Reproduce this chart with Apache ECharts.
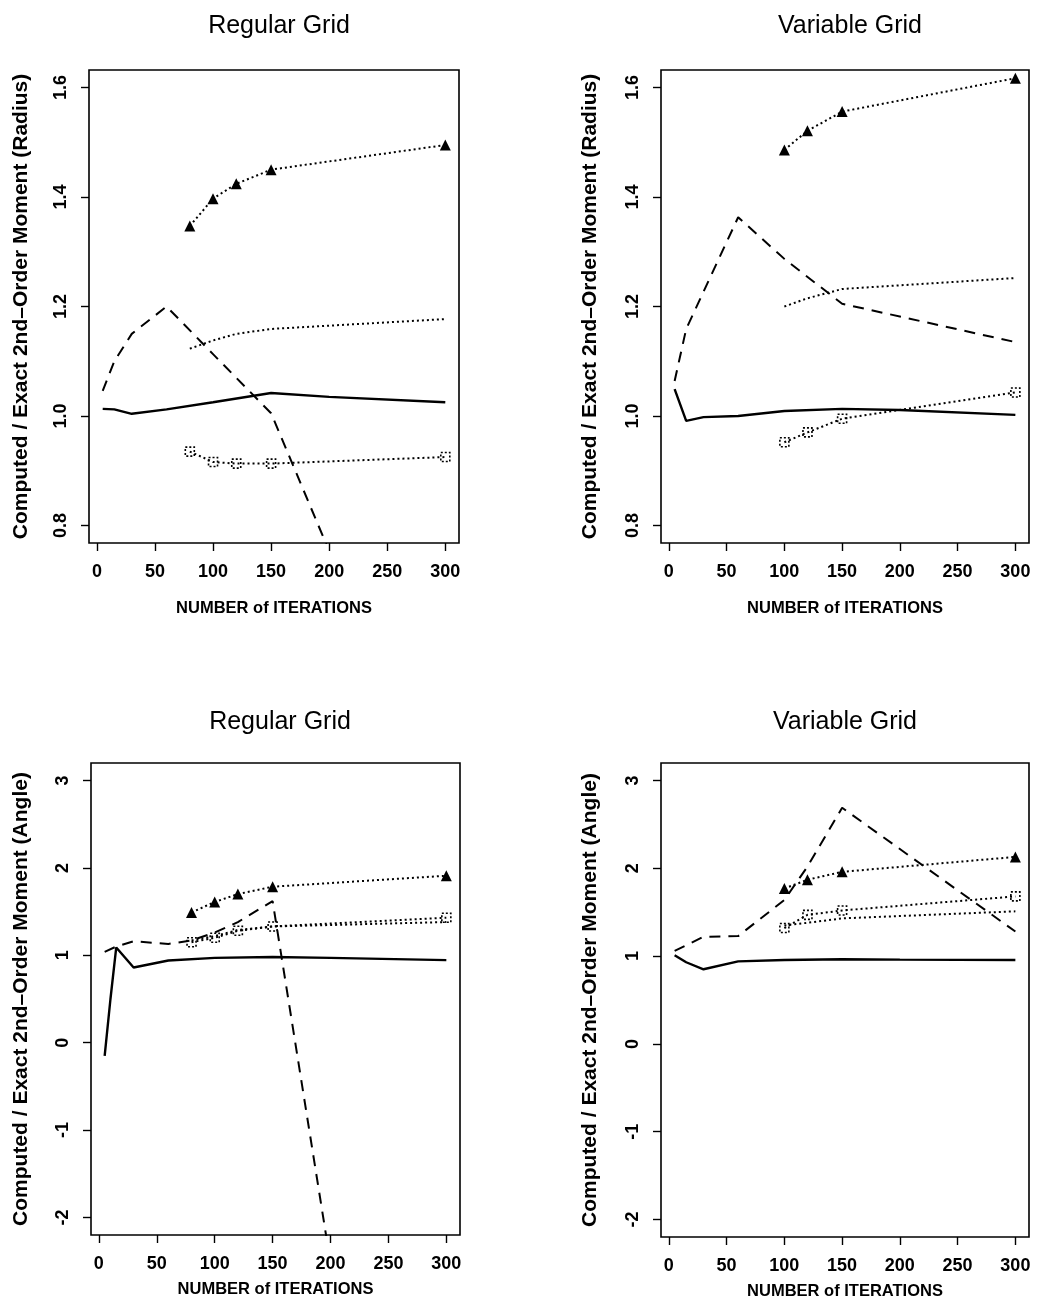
<!DOCTYPE html>
<html><head><meta charset="utf-8">
<script src="https://cdn.jsdelivr.net/npm/echarts@6/dist/echarts.min.js"></script>
<style>html,body{margin:0;padding:0;background:#fff}#c{width:1037px;height:1313px}</style>
</head><body><div id="c"></div>
<script>
// ---- tick labels / texts ----
const xTicks = [0, 50, 100, 150, 200, 250, 300];
const yTicksRadius = [0.8, 1.0, 1.2, 1.4, 1.6];
const yTicksAngle = [-2, -1, 0, 1, 2, 3];
const panelTitles = ['Regular Grid', 'Variable Grid', 'Regular Grid', 'Variable Grid'];
const yNameRadius = 'Computed / Exact 2nd\u2013Order Moment (Radius)';
const yNameAngle = 'Computed / Exact 2nd\u2013Order Moment (Angle)';
const xName = 'NUMBER of ITERATIONS';

// ---- Panel A: Regular Grid, Radius ----
const itersSolidA = [5, 15, 30, 60, 100, 150, 200, 300];
const solidA = [1.013, 1.012, 1.004, 1.012, 1.025, 1.042, 1.035, 1.025];
const itersDashA = [5, 15, 30, 60, 100, 150, 300];
const dashA = [1.046, 1.10, 1.15, 1.20, 1.113, 1.005, 0.25];
const itersDotA = [80, 100, 120, 150, 300];
const triA = [1.347, 1.397, 1.424, 1.450, 1.495];
const plainA = [1.123, 1.138, 1.150, 1.159, 1.177];
const squareA = [0.935, 0.916, 0.913, 0.913, 0.925];

// ---- Panel B: Variable Grid, Radius ----
const itersSolidB = [5, 15, 30, 60, 100, 150, 200, 300];
const solidB = [1.049, 0.991, 0.998, 1.000, 1.009, 1.013, 1.011, 1.002];
const itersDashB = [5, 15, 30, 60, 100, 150, 300];
const dashB = [1.064, 1.159, 1.227, 1.363, 1.287, 1.205, 1.135];
const itersDotB = [100, 120, 150, 300];
const triB = [1.486, 1.521, 1.556, 1.617];
const plainB = [1.200, 1.215, 1.232, 1.252];
const squareB = [0.952, 0.970, 0.995, 1.043];

// ---- Panel C: Regular Grid, Angle ----
const itersSolidC = [5, 10, 15, 30, 60, 100, 150, 200, 300];
const solidC = [-0.15, 0.50, 1.09, 0.86, 0.94, 0.97, 0.98, 0.97, 0.945];
const itersDashC = [5, 15, 30, 60, 80, 100, 120, 150, 300];
const dashC = [1.04, 1.10, 1.16, 1.13, 1.17, 1.26, 1.38, 1.62, -10.8];
const itersDotC = [80, 100, 120, 150, 300];
const triC = [1.49, 1.61, 1.70, 1.785, 1.91];
const plainC = [1.17, 1.22, 1.29, 1.33, 1.38];
const squareC = [1.15, 1.20, 1.28, 1.33, 1.43];

// ---- Panel D: Variable Grid, Angle ----
const itersSolidD = [5, 15, 30, 60, 100, 150, 200, 300];
const solidD = [1.01, 0.93, 0.85, 0.94, 0.955, 0.965, 0.96, 0.955];
const itersDashD = [5, 30, 60, 100, 120, 150, 300];
const dashD = [1.06, 1.22, 1.228, 1.64, 2.02, 2.69, 1.28];
const itersDotD = [100, 120, 150, 300];
const triD = [1.77, 1.87, 1.96, 2.13];
const plainD = [1.35, 1.38, 1.43, 1.51];
const squareD = [1.32, 1.47, 1.52, 1.68];

// ---- build ----
const SANS = "'Liberation Sans', Arial, Helvetica, sans-serif";
const pairs = (xs, ys) => xs.map((x, i) => [x, ys[i]]);

const panels = [
  {grid: {left: 89, top: 70, width: 370, height: 473}, ymin: 0.768, ymax: 1.632, yt: yTicksRadius, yname: yNameRadius, dec: 1, xgap: 57, ygap: 57,
   solid: pairs(itersSolidA, solidA), dash: pairs(itersDashA, dashA), tri: pairs(itersDotA, triA), plain: pairs(itersDotA, plainA), sq: pairs(itersDotA, squareA)},
  {grid: {left: 661, top: 70, width: 368, height: 473}, ymin: 0.768, ymax: 1.632, yt: yTicksRadius, yname: yNameRadius, dec: 1, xgap: 57, ygap: 60,
   solid: pairs(itersSolidB, solidB), dash: pairs(itersDashB, dashB), tri: pairs(itersDotB, triB), plain: pairs(itersDotB, plainB), sq: pairs(itersDotB, squareB)},
  {grid: {left: 91, top: 763, width: 369, height: 472}, ymin: -2.2, ymax: 3.2, yt: yTicksAngle, yname: yNameAngle, dec: 0, xgap: 46, ygap: 59,
   solid: pairs(itersSolidC, solidC), dash: pairs(itersDashC, dashC), tri: pairs(itersDotC, triC), plain: pairs(itersDotC, plainC), sq: pairs(itersDotC, squareC)},
  {grid: {left: 661, top: 763, width: 368, height: 474}, ymin: -2.2, ymax: 3.2, yt: yTicksAngle, yname: yNameAngle, dec: 0, xgap: 46, ygap: 60,
   solid: pairs(itersSolidD, solidD), dash: pairs(itersDashD, dashD), tri: pairs(itersDotD, triD), plain: pairs(itersDotD, plainD), sq: pairs(itersDotD, squareD)}
];

const grid = [], xAxis = [], yAxis = [], series = [], title = [];
const titlePos = [[274, 9], [845, 9], [275, 705], [840, 705]];
panels.forEach((p, i) => {
  grid.push(Object.assign({show: true, borderColor: '#000', borderWidth: 1.6, backgroundColor: 'transparent'}, p.grid));
  title.push({text: panelTitles[i], left: titlePos[i][0], top: titlePos[i][1], textAlign: 'center',
    textStyle: {fontFamily: SANS, fontSize: 25, fontWeight: 'normal', color: '#000'}});
  xAxis.push({type: 'value', gridIndex: i, min: -6.8, max: 311.8,
    axisLine: {show: false, onZero: false}, splitLine: {show: false},
    axisTick: {show: true, length: 8, customValues: xTicks, lineStyle: {color: '#000', width: 1.4}},
    axisLabel: {customValues: xTicks, margin: 20, fontFamily: SANS, fontWeight: 'bold', fontSize: 18, color: '#000'},
    name: xName, nameLocation: 'middle', nameGap: p.xgap,
    nameTextStyle: {fontFamily: SANS, fontWeight: 'bold', fontSize: 16.5, color: '#000'}});
  yAxis.push({type: 'value', gridIndex: i, min: p.ymin, max: p.ymax,
    axisLine: {show: false, onZero: false}, splitLine: {show: false},
    axisTick: {show: true, length: 8, customValues: p.yt, lineStyle: {color: '#000', width: 1.4}},
    axisLabel: {customValues: p.yt, rotate: 90, margin: 19, fontFamily: SANS, fontWeight: 'bold', fontSize: 18, color: '#000',
      formatter: v => Number(v).toFixed(p.dec)},
    name: p.yname, nameLocation: 'middle', nameGap: p.ygap,
    nameTextStyle: {fontFamily: SANS, fontWeight: 'bold', fontSize: 21, color: '#000'}});
  const base = {type: 'line', xAxisIndex: i, yAxisIndex: i, clip: true, animation: false, silent: true};
  series.push(Object.assign({}, base, {name: 'solid' + i, data: p.solid, symbol: 'none',
    lineStyle: {color: '#000', width: 2.4, type: 'solid'}}));
  series.push(Object.assign({}, base, {name: 'dash' + i, data: p.dash, symbol: 'none',
    lineStyle: {color: '#000', width: 2, type: [11, 8]}}));
  series.push(Object.assign({}, base, {name: 'tri' + i, data: p.tri, symbol: 'triangle', symbolSize: 11,
    itemStyle: {color: '#000'}, lineStyle: {color: '#000', width: 2, type: [2, 3]}}));
  series.push(Object.assign({}, base, {name: 'plain' + i, data: p.plain, symbol: 'none',
    lineStyle: {color: '#000', width: 2, type: [2, 3]}}));
  series.push(Object.assign({}, base, {name: 'sq' + i, data: p.sq, symbol: 'rect', symbolSize: 9,
    itemStyle: {color: 'rgba(255,255,255,0)', borderColor: '#000', borderWidth: 1.6, borderType: [2, 2]},
    lineStyle: {color: '#000', width: 2, type: [2, 3]}}));
});

const chart = echarts.init(document.getElementById('c'), null, {renderer: 'canvas'});
chart.setOption({backgroundColor: '#fff', animation: false, title, grid, xAxis, yAxis, series});
</script>
</body></html>
